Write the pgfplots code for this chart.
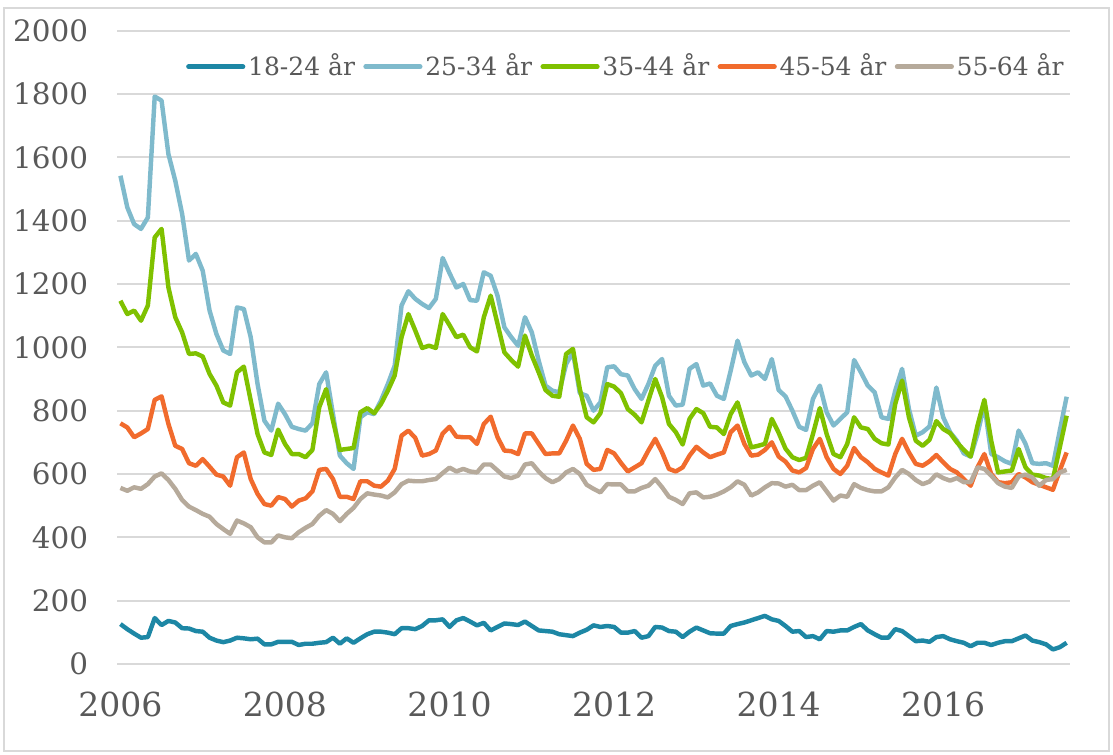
\documentclass[border=0pt]{standalone}
\usepackage{fontspec}
\setmainfont{DejaVu Serif}
\usepackage{pgfplots}
\usepackage{pgfplotstable}
\pgfplotsset{compat=1.18}

\definecolor{cA}{RGB}{29,135,165}
\definecolor{cB}{RGB}{127,186,204}
\definecolor{cC}{RGB}{127,193,0}
\definecolor{cD}{RGB}{241,107,45}
\definecolor{cE}{RGB}{182,170,155}
\definecolor{txt}{RGB}{89,89,89}
\definecolor{grd}{RGB}{217,217,217}

% month index (0 = jan 2006), then the five age groups
\pgfplotstableread{
m a b c d e
0 126 1542 1147 760 556
1 110 1442 1105 747 547
2 96 1389 1116 716 558
3 83 1374 1084 728 553
4 85 1410 1132 742 568
5 145 1792 1347 834 592
6 123 1779 1374 845 602
7 136 1610 1189 758 581
8 131 1526 1095 689 553
9 113 1421 1047 679 518
10 112 1274 979 634 497
11 104 1295 981 626 486
12 102 1242 971 647 474
13 83 1116 916 623 465
14 74 1042 879 598 442
15 69 990 826 592 426
16 74 979 816 563 411
17 83 1126 921 653 453
18 81 1121 939 668 444
19 78 1032 832 584 432
20 80 884 726 537 400
21 62 768 668 505 384
22 62 737 660 500 384
23 70 822 740 527 406
24 70 789 695 521 400
25 70 749 663 497 397
26 60 742 663 516 416
27 64 737 653 523 430
28 64 760 676 545 442
29 67 884 811 613 468
30 69 921 868 616 486
31 83 789 768 584 474
32 64 658 676 528 451
33 81 634 679 528 474
34 67 616 682 521 493
35 81 779 795 577 521
36 94 795 808 577 539
37 102 789 792 563 535
38 102 832 821 560 532
39 99 884 863 579 526
40 94 942 911 616 542
41 113 1132 1032 721 568
42 113 1177 1105 737 579
43 110 1153 1053 714 577
44 120 1137 998 658 577
45 138 1124 1005 663 581
46 138 1153 998 674 584
47 141 1282 1105 728 603
48 117 1234 1070 749 620
49 138 1189 1032 718 608
50 145 1200 1040 716 616
51 134 1149 1000 716 608
52 122 1147 987 695 605
53 130 1237 1095 758 630
54 106 1226 1163 781 630
55 117 1163 1074 716 611
56 128 1063 984 674 592
57 126 1032 960 672 587
58 123 1005 939 663 595
59 134 1095 1037 728 630
60 120 1047 974 728 634
61 106 958 921 695 608
62 104 879 865 663 587
63 102 863 847 665 574
64 94 858 844 665 584
65 91 947 979 705 605
66 88 985 995 753 616
67 99 855 868 711 600
68 108 847 779 632 566
69 122 800 763 613 553
70 117 826 792 616 542
71 120 937 884 676 568
72 117 940 876 665 567
73 99 915 855 635 567
74 99 911 805 608 545
75 104 868 787 621 545
76 83 837 763 634 556
77 88 884 832 674 563
78 117 942 900 711 584
79 115 963 842 668 558
80 104 847 758 616 528
81 102 816 732 608 518
82 85 819 693 621 505
83 102 932 774 658 539
84 115 947 805 686 542
85 106 879 792 668 526
86 97 886 749 653 528
87 96 847 747 661 535
88 96 837 726 668 545
89 120 926 789 732 558
90 126 1021 826 753 577
91 131 953 753 695 566
92 138 911 684 658 532
93 145 921 689 661 542
94 152 900 695 676 558
95 141 963 774 700 571
96 136 865 730 655 570
97 120 845 680 639 560
98 102 800 653 611 566
99 104 749 644 605 549
100 85 739 651 619 549
101 88 837 726 679 563
102 78 879 808 711 574
103 104 795 726 653 545
104 102 753 663 616 516
105 106 774 653 600 532
106 106 795 695 626 528
107 117 960 779 682 568
108 126 921 747 653 556
109 106 879 742 637 549
110 94 858 711 616 545
111 83 779 697 605 545
112 83 774 693 595 558
113 110 863 821 663 589
114 104 932 895 711 613
115 88 805 779 668 600
116 72 721 705 632 581
117 74 732 689 626 568
118 70 750 708 640 576
119 85 873 767 660 599
120 88 779 742 637 587
121 78 732 729 616 579
122 72 705 700 605 587
123 67 665 676 584 574
124 56 655 655 563 574
125 67 726 753 621 621
126 67 820 834 663 616
127 60 663 705 600 595
128 67 653 605 574 571
129 72 640 608 571 560
130 72 632 611 574 556
131 81 737 679 600 592
132 90 695 621 589 598
133 74 634 598 574 589
134 69 632 595 566 563
135 62 634 587 558 581
136 46 626 584 550 584
137 53 737 684 611 605
138 67 844 784 668 613
}\agedata

\begin{document}
\begin{tikzpicture}
\path[use as bounding box] (-42.12pt,-32.76pt) rectangle (358.56pt,239.04pt);
\begin{axis}[
    scale only axis,
    width=343.1pt, height=228pt,
    xmin=-0.5, xmax=138.5,
    ymin=0, ymax=2000,
    xtick={0,24,48,72,96,120},
    xticklabels={2006,2008,2010,2012,2014,2016},
    ytick={0,200,...,2000},
    axis line style={draw=none},
    major tick length=0pt,
    ymajorgrids,
    grid style={draw=grd, line width=0.8pt},
    /pgf/number format/assume math mode=true,
    /pgf/number format/set thousands separator={},
    yticklabel style={font=\fontsize{10.6}{12}\selectfont, text=txt, xshift=-6.9pt},
    xticklabel style={font=\fontsize{11.9}{14}\selectfont, text=txt, yshift=-6.5pt},
    every axis plot/.append style={line width=1.6pt, line join=round, no markers},
    legend style={at={(axis description cs:0.072,0.943)}, anchor=west,
        draw=none, fill=none, legend columns=-1, inner sep=0pt,
        nodes={inner xsep=1pt},
        font=\fontsize{9}{11}\selectfont, text=txt,
        /tikz/every even column/.append style={column sep=2pt}},
    legend image code/.code={\draw[#1, line width=1.7pt, line cap=round] (0pt,0pt) -- (19.6pt,0pt);},
]
\addplot[cA] table[x=m, y=a] {\agedata};
\addplot[cB] table[x=m, y=b] {\agedata};
\addplot[cC] table[x=m, y=c] {\agedata};
\addplot[cD] table[x=m, y=d] {\agedata};
\addplot[cE] table[x=m, y=e] {\agedata};
\legend{18-24 år, 25-34 år, 35-44 år, 45-54 år, 55-64 år}
\end{axis}
\draw[grd, line width=0.6pt] (-40.68pt,-31.32pt) rectangle (357.12pt,236.16pt);
\end{tikzpicture}
\end{document}
